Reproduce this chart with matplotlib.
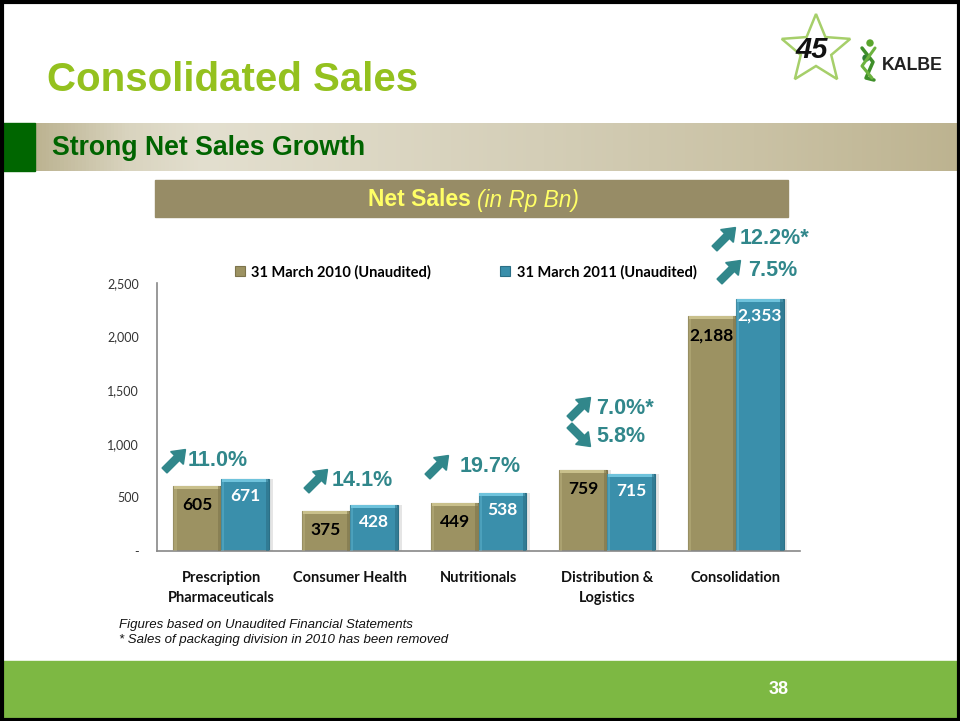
import numpy as np
import matplotlib
matplotlib.use("Agg")
import matplotlib.pyplot as plt
from matplotlib import patches
from matplotlib.colors import LinearSegmentedColormap
from matplotlib.lines import Line2D

# ---- data -------------------------------------------------------------
categories = ["Prescription\nPharmaceuticals", "Consumer Health", "Nutritionals",
              "Distribution &\nLogistics", "Consolidation"]
sales_2010 = [605, 375, 449, 759, 2188]
sales_2011 = [671, 428, 538, 715, 2353]
series_names = ["31 March 2010 (Unaudited)", "31 March 2011 (Unaudited)"]
y_ticks = [0, 500, 1000, 1500, 2000, 2500]
y_tick_labels = ["-", "500", "1,000", "1,500", "2,000", "2,500"]

# growth call-outs: (text, direction)
growth_notes = [("11.0%", "up"), ("14.1%", "up"), ("19.7%", "up"),
                ("7.0%*", "up"), ("5.8%", "down"), ("12.2%*", "up"), ("7.5%", "up")]

title = "Consolidated Sales"
subtitle = "Strong Net Sales Growth"
footnotes = ["Figures based on Unaudited Financial Statements",
             "* Sales of packaging division in 2010 has been removed"]
page_no = "38"

# ---- style ------------------------------------------------------------
TAN = "#9c9262"
TAN_LIGHT = "#c9c08c"
TAN_DARK = "#7d744c"
BLUE = "#3a8fab"
BLUE_LIGHT = "#6fc3dc"
BLUE_DARK = "#2b6f86"
TEAL = "#31878b"
ARIAL = ["Liberation Sans", "DejaVu Sans"]
CAL = ["Lato", "DejaVu Sans"]

W, H = 960, 721
fig = plt.figure(figsize=(W / 100, H / 100), dpi=100)
fig.patch.set_facecolor("white")

# full-figure canvas in pixel units for slide decoration
bg = fig.add_axes([0, 0, 1, 1])
bg.set_xlim(0, W)
bg.set_ylim(H, 0)
bg.axis("off")

# slide frame
bg.add_patch(patches.Rectangle((1.5, 1.5), W - 3, H - 3, fill=False,
                               edgecolor="black", linewidth=3, zorder=10))

# title
bg.text(47, 80, title, family=ARIAL, weight="bold", fontsize=29,
        color="#94c11f", va="center", ha="left")

# logo: star outline, "45" mark, figure and wordmark
ang = np.deg2rad(90 + np.arange(10) * 36)
rad = np.where(np.arange(10) % 2 == 0, 36, 16)
sx = 816 + rad * np.cos(ang)
sy = 50 - rad * np.sin(ang)
bg.add_patch(patches.Polygon(np.c_[sx, sy], closed=True, fill=False,
                             edgecolor="#a6cf6a", linewidth=1.8, zorder=3))
bg.text(812, 50, "45", family=ARIAL, style="italic", weight="bold", fontsize=21,
        color="#111111", ha="center", va="center", zorder=4)
bg.add_patch(patches.Circle((870, 43), 3, color="#5aa52c", zorder=4))
bg.add_patch(patches.Circle((866, 58), 3, color="#2e7d32", zorder=4))
bg.plot([862, 873, 866, 874], [48, 62, 78, 80], color="#3f8f2a", lw=2.5,
        solid_capstyle="round", zorder=4)
bg.plot([875, 862, 872], [48, 66, 78], color="#6db33f", lw=2.2,
        solid_capstyle="round", zorder=4)
bg.text(882, 66, "KALBE", family=ARIAL, weight="bold", fontsize=12.8,
        color="#222222", ha="left", va="center")

# section header band with horizontal gradient
stops = [(0.00, "#bcb391"), (0.10, "#d9d4bf"), (0.18, "#e3dfcf"), (0.35, "#ddd8c5"),
         (0.55, "#d4ceb7"), (0.78, "#cac2a5"), (1.00, "#bdb390")]
cmap = LinearSegmentedColormap.from_list("band", stops)
bg.imshow(np.linspace(0, 1, 256)[None, :], cmap=cmap, aspect="auto",
          extent=[35, W, 171, 123], zorder=1)
bg.add_patch(patches.Rectangle((0, 123), 35, 48, color="#006600", zorder=2))
bg.text(52, 148, subtitle, family=ARIAL, weight="bold", fontsize=19.2,
        color="#006400", va="center", ha="left", zorder=3)

# chart heading box
bg.add_patch(patches.Rectangle((155, 180), 633, 37, color="#978c66", zorder=1))
bg.text(471, 200, "Net Sales", family=ARIAL, weight="bold", fontsize=16.5,
        color="#ffff66", va="center", ha="right", zorder=2)
bg.text(477, 200, "(in Rp Bn)", family=ARIAL, style="italic", fontsize=16.3,
        color="#ffff66", va="center", ha="left", zorder=2)

# footer
bg.add_patch(patches.Rectangle((0, 661), W, H - 661, color="#7db843", zorder=1))
bg.text(779, 690, page_no, family=ARIAL, weight="bold", fontsize=13,
        color="white", ha="center", va="center", zorder=2)
for i, note in enumerate(footnotes):
    bg.text(119, 625 + i * 15, note, family=ARIAL, style="italic", fontsize=9.5,
            color="#111111", ha="left", va="center")

# ---- bar chart ---------------------------------------------------------
ax = fig.add_axes([157 / W, (H - 551) / H, 643 / W, 268 / H])
ax.set_xlim(-0.5, len(categories) - 0.5)
ax.set_ylim(0, 2500)
x = np.arange(len(categories))
bw = 0.372
px_per_unit = 268 / 2500

def bevel_bars(xpos, values, face, light, dark):
    ax.bar(xpos + 0.03, values, bw, color="#000000", alpha=0.10, zorder=1)
    ax.bar(xpos, values, bw, color=face, edgecolor=dark, linewidth=0.8, zorder=2)
    cap = 3 / px_per_unit
    ax.bar(xpos, [cap] * len(values), bw * 0.96, bottom=np.array(values) - cap,
           color=light, zorder=3)
    ax.bar(xpos - bw / 2 + 0.012, values, 0.024, color=light, alpha=0.35, zorder=3)
    ax.bar(xpos + bw / 2 - 0.012, values, 0.024, color=dark, alpha=0.6, zorder=3)

bevel_bars(x - bw / 2, sales_2010, TAN, TAN_LIGHT, TAN_DARK)
bevel_bars(x + bw / 2, sales_2011, BLUE, BLUE_LIGHT, BLUE_DARK)

for xi, v in zip(x - bw / 2, sales_2010):
    ax.annotate(f"{v:,}", (xi, v), xytext=(0, -19), textcoords="offset pixels",
                ha="center", va="center", family=CAL, weight="bold", fontsize=12.5,
                color="black", zorder=5)
for xi, v in zip(x + bw / 2, sales_2011):
    ax.annotate(f"{v:,}", (xi, v), xytext=(0, -17), textcoords="offset pixels",
                ha="center", va="center", family=CAL, weight="bold", fontsize=12.5,
                color="white", zorder=5)

ax.set_yticks(y_ticks)
ax.set_yticklabels(y_tick_labels, family=CAL, fontsize=9, color="#333333")
ax.set_xticks(x)
ax.set_xticklabels(categories, family=CAL, weight="bold", fontsize=10.5,
                   color="#111111", linespacing=1.55)
ax.tick_params(axis="both", length=0)
ax.tick_params(axis="y", pad=13)
ax.tick_params(axis="x", pad=14.5)
for side in ("top", "right"):
    ax.spines[side].set_visible(False)
for side in ("left", "bottom"):
    ax.spines[side].set_color("#888888")
    ax.spines[side].set_linewidth(1.2)
ax.set_facecolor("none")

handles = [Line2D([], [], marker="s", linestyle="none", markersize=7,
                  markerfacecolor=c, markeredgecolor=e, markeredgewidth=0.8)
           for c, e in ((TAN, TAN_DARK), (BLUE, BLUE_DARK))]
leg = ax.legend(handles, series_names, loc="center", ncol=2,
                bbox_to_anchor=((461 - 157) / 643, (551 - 272) / 268),
                frameon=False, handletextpad=-0.2, columnspacing=4.1,
                prop={"family": CAL, "weight": "bold", "size": 10.5})

# ---- growth call-outs (block arrows + percentages) ----------------------
note_pos = [(175, 460, 188), (317, 480, 332), (438, 466, 460),
            (580, 408, 596), (580, 436, 596), (725, 238, 740), (730, 271, 748)]
for (txt, direction), (ax_c, ay_c, tx) in zip(growth_notes, note_pos):
    d = 10.5
    sgn = -1 if direction == "up" else 1
    arr = patches.FancyArrow(ax_c - d, ay_c - sgn * d, 2 * d, sgn * 2 * d, width=7,
                             head_width=18, head_length=12,
                             length_includes_head=True, color=TEAL, zorder=6)
    bg.add_patch(arr)
    bg.text(tx, ay_c, txt, family=ARIAL, weight="bold", fontsize=15.5,
            color=TEAL, ha="left", va="center", zorder=6)

fig.savefig("out.png", dpi=100)
